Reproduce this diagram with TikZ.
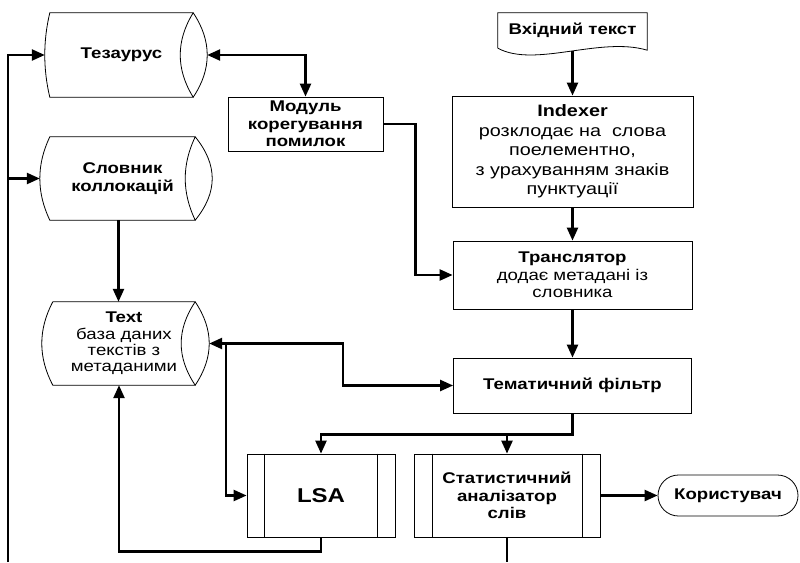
\documentclass[tikz,border=0pt]{standalone}
\usepackage{fontspec}
\setmainfont[FakeStretch=1.2]{Liberation Sans}
\usetikzlibrary{arrows.meta,shapes.misc}
\begin{document}
\begin{tikzpicture}[x=1pt,y=-1pt,
  txt/.style={inner sep=0pt,align=center,font=\fontsize{15.5}{17.5}\selectfont},
  box/.style={txt,draw,line width=0.8pt},
  outl/.style={line width=0.8pt},
  conn/.style={line width=2.4pt},
  arr/.style={conn,-{Triangle[length=13pt,width=11pt]}},
  darr/.style={conn,{Triangle[length=13pt,width=11pt]}-{Triangle[length=13pt,width=11pt]}}]
\useasboundingbox (0,0) rectangle (800,562);
\coordinate (bot) at (0,562);
% storage: Тезаурус
\node[txt,minimum width=143,minimum height=84] (thz) at (121.5,55) {\textbf{Тезаурус}};
\draw[outl] (thz.north east) -- (thz.north west) .. controls +(-6.7,28) and +(-6.7,-28) .. (thz.south west) -- (thz.south east)
  .. controls +(-17.3,-28) and +(-17.3,28) .. (thz.north east) .. controls +(18.7,28) and +(18.7,-28) .. (thz.south east);
\coordinate (thzL) at ([xshift=-5pt]thz.west);
\coordinate (thzR) at ([xshift=14pt]thz.east);
% storage: Словник
\node[txt,minimum width=145,minimum height=83] (slv) at (122.5,178.5) {\textbf{Словник}\\\textbf{коллокацій}};
\draw[outl] (slv.north east) -- (slv.north west) .. controls +(-13.3,28) and +(-13.3,-28) .. (slv.south west) -- (slv.south east)
  .. controls +(-13.3,-28) and +(-13.3,28) .. (slv.north east) .. controls +(22.7,28) and +(22.7,-28) .. (slv.south east);
\coordinate (slvL) at ([xshift=-10pt]slv.west);
% storage: Text
\node[txt,minimum width=142,minimum height=83,font=\fontsize{15.5}{16.2}\selectfont] (db) at (124,343.5) {\textbf{Text}\\база даних\\текстів з\\метаданими};
\draw[outl] (db.north east) -- (db.north west) .. controls +(-14.7,28) and +(-14.7,-28) .. (db.south west) -- (db.south east)
  .. controls +(-18.7,-28) and +(-18.7,28) .. (db.north east) .. controls +(18.7,28) and +(18.7,-28) .. (db.south east);
\coordinate (dbR) at ([xshift=14pt]db.east);
% document
\node[txt,minimum width=149,minimum height=35] (doc) at (572.5,30.5) {\textbf{Вхідний текст}};
\draw[outl] (doc.south west) -- (doc.north west) -- (doc.north east) -- ([yshift=-2pt]doc.south east)
  .. controls +(-47,-14) and +(37,20) .. (doc.south west);
% boxes
\node[box,minimum width=155,minimum height=54] (mod) at (305.5,124) {\textbf{Модуль}\\\textbf{корегування}\\\textbf{помилок}};
\node[box,minimum width=241,minimum height=111,font=\fontsize{16.5}{19.5}\selectfont] (idx) at (572.5,151.5)
  {\textbf{Indexer}\\розклодає на\ \ слова\\поелементно,\\з урахуванням знаків\\пунктуації};
\node[box,minimum width=239,minimum height=68] (trn) at (572.5,275) {\textbf{Транслятор}\\додає метадані із\\словника};
\node[box,minimum width=238,minimum height=55] (tem) at (572.5,385.5) {\textbf{Тематичний фільтр}};
\node[box,minimum width=148,minimum height=83,font=\fontsize{20}{22}\selectfont] (lsa) at (321,495.5) {\textbf{LSA}};
\draw[outl] ([xshift=18pt]lsa.north west) -- ([xshift=18pt]lsa.south west);
\draw[outl] ([xshift=-18pt]lsa.north east) -- ([xshift=-18pt]lsa.south east);
\node[box,minimum width=186,minimum height=83] (stat) at (507,495.5) {\textbf{Статистичний}\\\textbf{аналізатор}\\\textbf{слів}};
\draw[outl] ([xshift=19pt]stat.north west) -- ([xshift=19pt]stat.south west);
\draw[outl] ([xshift=-18pt]stat.north east) -- ([xshift=-18pt]stat.south east);
\node[box,rounded rectangle,minimum width=140,minimum height=41] (kor) at (728,495.5) {\textbf{Користувач}};
% connectors
\draw[arr] (8,562) |- (thzL);
\draw[arr] (8,0 |- slvL) -- (slvL);
\draw[darr] (thzR) -| (mod.north);
\draw[arr] (mod.east) -- ++(32,0) |- (trn.west);
\draw[arr] ([yshift=-3pt]doc.south) -- (idx.north);
\draw[arr] (idx.south) -- (trn.north);
\draw[arr] (trn.south) -- (tem.north);
\draw[arr] ([xshift=-4pt]slv.south) -- ([xshift=-4pt]slv.south |- db.north);
\draw[darr] (dbR) -- ++(134,0) |- (tem.west);
\draw[arr] ([xshift=17pt]dbR) |- (lsa.west);
\draw[arr] (tem.south) -- ++(0,21) -| (lsa.north);
\draw[arr] ([yshift=-21pt]tem.south -| stat.north) -- (stat.north);
\draw[arr] (lsa.south) -- ++(0,14) -| ([xshift=-5pt]db.south);
\draw[arr] (stat.east) -- (kor.west);
\draw[conn] (stat.south) -- (stat.south |- bot);
\end{tikzpicture}
\end{document}
